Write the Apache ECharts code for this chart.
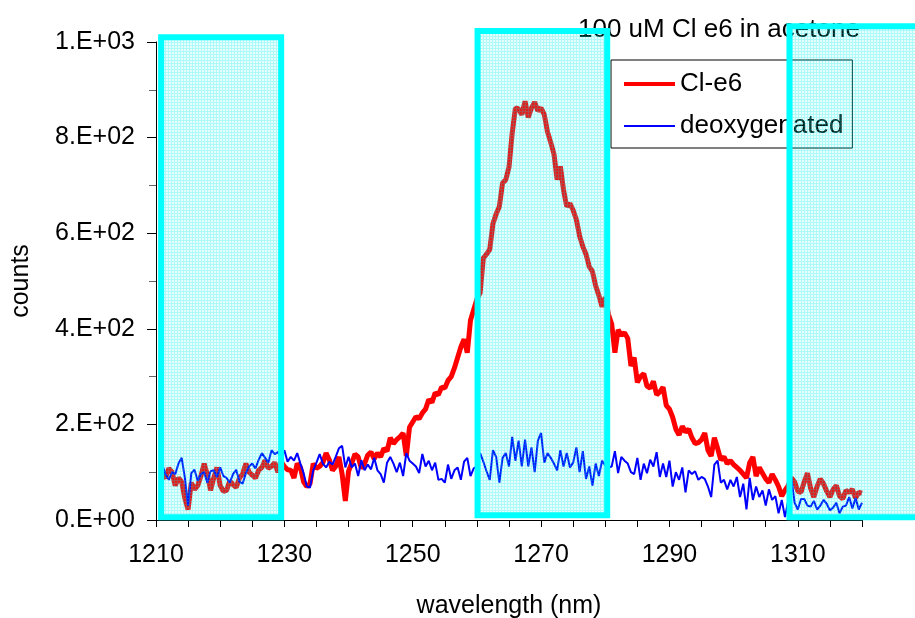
<!DOCTYPE html>
<html>
<head>
<meta charset="utf-8">
<title>Cl e6 in acetone</title>
<script src="https://cdn.jsdelivr.net/npm/echarts@6/dist/echarts.min.js"></script>
<style>
  html, body { margin: 0; padding: 0; background: #fff; }
  #chart { width: 915px; height: 618px; }
</style>
</head>
<body>
<div id="chart"></div>
<script>
// wavelength sampling (nm)
const waveStart = 1211;
const waveStep = 0.5;

// Cl-e6 counts, 1211 .. 1320 nm
const cle6Counts = [
  95, 88, 108, 100, 72, 88, 80, 45, 22, 78, 64, 72, 92, 118, 95, 62, 88, 110, 72, 60,
  62, 82, 74, 68, 88, 96, 118, 100, 94, 88, 104, 110, 125, 108, 112, 120, 100, 122, 112, 105,
  104, 88, 118, 110, 80, 70, 76, 118, 108, 112, 120, 140, 126, 104, 112, 132, 96, 40, 102, 119,
  138, 132, 108, 118, 136, 142, 128, 140, 132, 150, 144, 172, 160, 168, 174, 182, 134, 194, 205, 216,
  212, 224, 232, 252, 246, 266, 262, 278, 276, 292, 300, 318, 340, 362, 378, 350, 418, 440, 462, 475,
  548, 556, 566, 620, 640, 656, 705, 712, 738, 810, 862, 860, 848, 876, 842, 862, 874, 856, 862, 848,
  812, 790, 766, 712, 740, 690, 656, 662, 648, 628, 594, 572, 556, 530, 520, 490, 470, 446, 466, 430,
  410, 350, 398, 386, 392, 380, 322, 340, 288, 300, 306, 280, 276, 290, 262, 268, 278, 240, 232, 215,
  190, 178, 196, 184, 190, 172, 160, 162, 168, 182, 146, 134, 172, 150, 126, 132, 118, 124, 116, 110,
  104, 96, 88, 120, 132, 92, 110, 98, 86, 78, 96, 84, 70, 50, 62, 72, 88, 80, 60, 58,
  80, 98, 66, 48, 70, 86, 76, 60, 48, 64, 72, 50, 44, 62, 58, 64, 46, 58, 56
];

// deoxygenated counts, 1211 .. 1320 nm
const deoxyCounts = [
  115, 95, 84, 100, 96, 118, 130, 88, 30, 98, 105, 82, 96, 100, 78, 102, 104, 90, 110, 92,
  88, 78, 96, 105, 80, 76, 98, 112, 118, 108, 126, 140, 130, 120, 146, 138, 142, 128, 146, 122,
  132, 124, 140, 118, 98, 70, 68, 104, 120, 138, 118, 110, 122, 116, 132, 150, 155, 110, 132, 110,
  118, 92, 125, 104, 116, 106, 130, 104, 96, 78, 120, 132, 118, 100, 120, 92, 140, 124, 118, 112,
  98, 138, 112, 124, 104, 120, 84, 86, 78, 116, 86, 104, 110, 84, 122, 130, 92, 108, 112, 140,
  122, 102, 84, 146, 132, 78, 130, 140, 112, 174, 124, 166, 112, 168, 112, 152, 100, 166, 182, 120,
  140, 130, 118, 104, 146, 112, 140, 110, 120, 152, 100, 144, 86, 112, 72, 118, 92, 124, 114, 110,
  112, 144, 98, 132, 124, 118, 100, 96, 130, 84, 118, 98, 126, 112, 142, 90, 118, 90, 124, 70,
  100, 84, 110, 58, 104, 96, 102, 84, 90, 86, 70, 48, 116, 124, 78, 84, 64, 84, 70, 90,
  48, 76, 22, 88, 42, 70, 48, 62, 30, 64, 42, 50, 14, 42, 6, 40, 88, 36, 22, 44,
  44, 30, 28, 40, 22, 30, 42, 34, 20, 26, 36, 14, 28, 30, 48, 24, 46, 22, 36
];

// highlighted windows (nm / counts)
const boxStart = [1210.8, 1260.1, 1308.7];
const boxEnd = [1229.5, 1280.3, 1334];
const boxTop = [1010, 1023, 1033];
const boxBottom = [6, 10, 6];

const xLabelValues = [1210, 1230, 1250, 1270, 1290, 1310];

const cle6Data = cle6Counts.map((v, i) => [waveStart + i * waveStep, v]);
const deoxyData = deoxyCounts.map((v, i) => [waveStart + i * waveStep, v]);
const boxData = boxStart.map((s, i) => [s, boxEnd[i], boxTop[i], boxBottom[i]]);

// fine cyan grid used to fill the windows
const patternCanvas = document.createElement('canvas');
patternCanvas.width = 3;
patternCanvas.height = 3;
(function () {
  const ctx = patternCanvas.getContext('2d');
  ctx.fillStyle = 'rgba(0,255,255,0.10)';
  ctx.fillRect(0, 0, 3, 3);
  ctx.fillStyle = 'rgba(0,230,230,0.24)';
  ctx.fillRect(0, 0, 3, 1);
  ctx.fillRect(0, 1, 1, 2);
})();

function sciLabel(v) {
  if (v === 0) return '0.E+00';
  const e = Math.floor(Math.log10(v));
  const m = Math.round(v / Math.pow(10, e));
  return m + '.E+' + String(e).padStart(2, '0');
}

const myChart = echarts.init(document.getElementById('chart'));
const fontFamily = '"Liberation Sans", Arial, sans-serif';

const option = {
  animation: false,
  backgroundColor: '#fff',
  textStyle: { fontFamily: fontFamily },
  title: {
    text: '100 uM Cl e6 in acetone',
    left: 573,
    top: 12,
    textStyle: { fontSize: 26, fontWeight: 'normal', color: '#000', fontFamily: fontFamily }
  },
  legend: {
    orient: 'vertical',
    left: 611,
    top: 60,
    padding: [11, 9, 9, 11],
    itemWidth: 51,
    itemHeight: 14,
    itemGap: 16,
    borderColor: '#000',
    borderWidth: 1,
    backgroundColor: '#fff',
    itemStyle: { opacity: 0 },
    textStyle: { fontSize: 26, color: '#000', fontFamily: fontFamily },
    data: [
      { name: 'Cl-e6', lineStyle: { width: 4 } },
      { name: 'deoxygenated', lineStyle: { width: 2 } }
    ]
  },
  grid: {
    left: 156,
    right: 53,
    top: 42,
    bottom: 98,
    outerBoundsMode: 'none'
  },
  xAxis: {
    type: 'value',
    min: 1210,
    max: 1320,
    interval: 5,
    name: 'wavelength (nm)',
    nameLocation: 'middle',
    nameGap: 74,
    nameTextStyle: { fontSize: 25, color: '#000', fontFamily: fontFamily },
    axisLine: { lineStyle: { color: '#000', width: 1 } },
    axisTick: { show: true, length: 7, lineStyle: { color: '#000' } },
    axisLabel: {
      fontSize: 25,
      color: '#000',
      margin: 23,
      formatter: v => (xLabelValues.includes(v) ? String(v) : '')
    },
    splitLine: { show: false }
  },
  yAxis: {
    type: 'value',
    min: 0,
    max: 1000,
    interval: 200,
    name: 'counts',
    nameLocation: 'middle',
    nameGap: 122,
    nameTextStyle: { fontSize: 25, color: '#000', fontFamily: fontFamily },
    axisLine: { show: true, lineStyle: { color: '#000', width: 1 } },
    axisTick: { show: true, length: 9, lineStyle: { color: '#000' } },
    minorTick: { show: true, splitNumber: 2, length: 7, lineStyle: { color: '#666' } },
    axisLabel: { fontSize: 25, color: '#000', margin: 21, formatter: sciLabel },
    splitLine: { show: false }
  },
  series: [
    {
      name: 'Cl-e6',
      type: 'line',
      data: cle6Data,
      symbol: 'none',
      showSymbol: false,
      z: 2,
      lineStyle: { color: '#ff0000', width: 5 },
      itemStyle: { color: '#ff0000' }
    },
    {
      name: 'deoxygenated',
      type: 'line',
      data: deoxyData,
      symbol: 'none',
      showSymbol: false,
      z: 3,
      lineStyle: { color: '#0000ff', width: 2 },
      itemStyle: { color: '#0000ff' }
    },
    {
      name: 'windows',
      type: 'custom',
      z: 10,
      silent: true,
      clip: false,
      data: boxData,
      renderItem: function (params, api) {
        const p1 = api.coord([api.value(0), api.value(2)]);
        const p2 = api.coord([api.value(1), api.value(3)]);
        return {
          type: 'rect',
          shape: { x: p1[0], y: p1[1], width: p2[0] - p1[0], height: p2[1] - p1[1] },
          style: {
            fill: { image: patternCanvas, repeat: 'repeat' },
            stroke: '#00ffff',
            lineWidth: 6
          }
        };
      }
    }
  ]
};

myChart.setOption(option);
window.addEventListener('resize', myChart.resize);
</script>
</body>
</html>
